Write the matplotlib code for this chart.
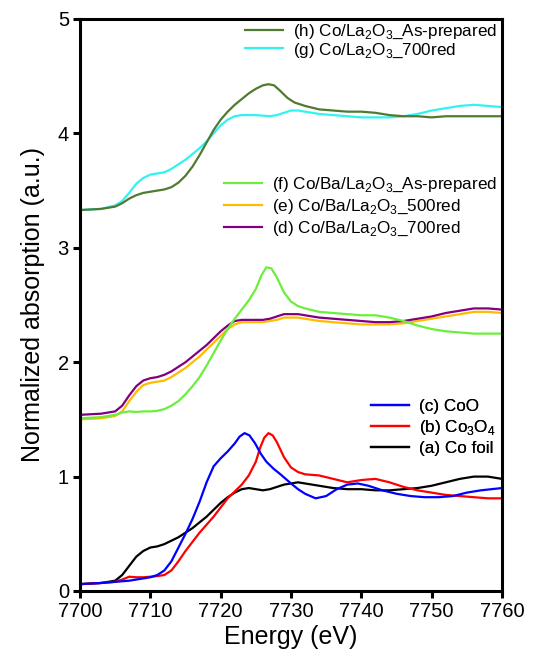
import matplotlib
matplotlib.use("Agg")
import matplotlib.pyplot as plt
from matplotlib.lines import Line2D

plt.rcParams['font.family'] = ['Liberation Sans', 'DejaVu Sans']
plt.rcParams['mathtext.fontset'] = 'custom'
plt.rcParams['mathtext.rm'] = 'Liberation Sans'

# ---- data ----
E_a = [7700, 7703, 7705, 7706, 7707, 7708, 7709, 7710, 7711, 7712, 7713, 7714, 7715, 7716, 7717, 7718, 7719, 7720, 7721, 7722, 7723, 7724, 7725, 7726, 7727, 7728, 7729, 7730, 7731, 7732, 7734, 7736, 7738, 7740, 7742, 7744, 7746, 7748, 7750, 7752, 7754, 7756, 7758, 7760]
a_cofoil = [0.06, 0.07, 0.09, 0.14, 0.22, 0.30, 0.35, 0.38, 0.39, 0.41, 0.44, 0.47, 0.51, 0.55, 0.60, 0.65, 0.71, 0.77, 0.82, 0.86, 0.89, 0.90, 0.89, 0.88, 0.89, 0.91, 0.93, 0.94, 0.95, 0.94, 0.92, 0.90, 0.89, 0.89, 0.88, 0.88, 0.89, 0.90, 0.92, 0.95, 0.98, 1.00, 1.00, 0.98]

E_b = [7700, 7703, 7705, 7706, 7707, 7708, 7709, 7710, 7711, 7712, 7713, 7714, 7715, 7716, 7717, 7718, 7719, 7720, 7721, 7722, 7723, 7724, 7725, 7725.6, 7726.2, 7726.8, 7727.4, 7728, 7729, 7730, 7731, 7732, 7734, 7736, 7738, 7740, 7742, 7744, 7746, 7748, 7750, 7752, 7754, 7756, 7758, 7760]
b_co3o4 = [0.06, 0.07, 0.08, 0.10, 0.125, 0.12, 0.12, 0.125, 0.13, 0.14, 0.18, 0.26, 0.35, 0.43, 0.51, 0.58, 0.65, 0.73, 0.81, 0.87, 0.93, 1.01, 1.13, 1.25, 1.34, 1.38, 1.36, 1.30, 1.17, 1.08, 1.04, 1.02, 1.01, 0.98, 0.95, 0.97, 0.98, 0.95, 0.91, 0.88, 0.86, 0.84, 0.83, 0.82, 0.81, 0.81]

E_c = [7700, 7703, 7705, 7707, 7709, 7710, 7711, 7712, 7713, 7714, 7715, 7716, 7717, 7718, 7719, 7720, 7721, 7722, 7722.7, 7723.4, 7724.1, 7724.9, 7725.7, 7726.5, 7727.5, 7728.5, 7730, 7731, 7732, 7733.5, 7735, 7736.5, 7738, 7739.5, 7741, 7743, 7745, 7747, 7749, 7751, 7753, 7755, 7757, 7760]
c_coo = [0.06, 0.07, 0.08, 0.09, 0.11, 0.12, 0.14, 0.18, 0.26, 0.38, 0.50, 0.63, 0.78, 0.95, 1.09, 1.16, 1.22, 1.29, 1.35, 1.38, 1.36, 1.29, 1.20, 1.13, 1.07, 1.02, 0.94, 0.89, 0.85, 0.81, 0.83, 0.89, 0.93, 0.94, 0.92, 0.88, 0.85, 0.83, 0.82, 0.82, 0.83, 0.86, 0.88, 0.90]

E_d = [7700, 7703, 7705, 7706, 7707, 7708, 7709, 7710, 7711, 7712, 7713, 7714, 7715, 7716, 7717, 7718, 7719, 7720, 7721, 7722, 7723, 7724, 7725, 7726, 7727, 7728, 7729, 7730, 7731, 7732, 7734, 7736, 7738, 7740, 7742, 7744, 7746, 7748, 7750, 7752, 7754, 7756, 7758, 7760]
d_ba700 = [1.54, 1.55, 1.57, 1.62, 1.71, 1.79, 1.84, 1.86, 1.87, 1.89, 1.92, 1.96, 2.00, 2.05, 2.10, 2.15, 2.21, 2.27, 2.32, 2.36, 2.37, 2.37, 2.37, 2.37, 2.38, 2.40, 2.42, 2.42, 2.42, 2.41, 2.39, 2.38, 2.37, 2.36, 2.35, 2.35, 2.36, 2.38, 2.40, 2.43, 2.45, 2.47, 2.47, 2.46]
e_ba500 = [1.50, 1.51, 1.53, 1.57, 1.66, 1.74, 1.80, 1.82, 1.83, 1.84, 1.87, 1.91, 1.95, 2.00, 2.05, 2.11, 2.17, 2.23, 2.29, 2.33, 2.35, 2.35, 2.35, 2.35, 2.36, 2.37, 2.39, 2.39, 2.39, 2.38, 2.36, 2.35, 2.34, 2.33, 2.33, 2.33, 2.34, 2.36, 2.38, 2.40, 2.42, 2.44, 2.44, 2.43]

E_f = [7700, 7703, 7705, 7706, 7707, 7708, 7709, 7710, 7711, 7712, 7713, 7714, 7715, 7716, 7717, 7718, 7719, 7720, 7721, 7722, 7723, 7724, 7725, 7725.8, 7726.5, 7727.2, 7728, 7729, 7730, 7731, 7732, 7734, 7736, 7738, 7740, 7742, 7744, 7746, 7748, 7750, 7752, 7754, 7756, 7758, 7760]
f_ba_asprep = [1.51, 1.52, 1.54, 1.56, 1.57, 1.565, 1.57, 1.57, 1.575, 1.59, 1.62, 1.66, 1.72, 1.79, 1.87, 1.97, 2.08, 2.19, 2.29, 2.38, 2.46, 2.54, 2.64, 2.76, 2.83, 2.82, 2.74, 2.61, 2.53, 2.49, 2.47, 2.44, 2.43, 2.42, 2.41, 2.41, 2.39, 2.36, 2.32, 2.29, 2.27, 2.26, 2.25, 2.25, 2.25]

E_g = [7700, 7703, 7705, 7706, 7707, 7708, 7709, 7710, 7711, 7712, 7713, 7714, 7715, 7716, 7717, 7718, 7719, 7720, 7721, 7722, 7723, 7724, 7725, 7726, 7727, 7728, 7729, 7730, 7731, 7732, 7734, 7736, 7738, 7740, 7742, 7744, 7746, 7748, 7750, 7752, 7754, 7756, 7758, 7760]
g_la700 = [3.33, 3.34, 3.37, 3.41, 3.48, 3.56, 3.61, 3.64, 3.65, 3.66, 3.69, 3.73, 3.77, 3.82, 3.87, 3.93, 4.00, 4.07, 4.12, 4.15, 4.16, 4.16, 4.16, 4.155, 4.15, 4.16, 4.18, 4.20, 4.20, 4.19, 4.17, 4.16, 4.15, 4.14, 4.14, 4.14, 4.15, 4.17, 4.20, 4.22, 4.24, 4.25, 4.24, 4.23]

E_h = [7700, 7703, 7705, 7706, 7707, 7708, 7709, 7710, 7711, 7712, 7713, 7714, 7715, 7716, 7717, 7718, 7719, 7720, 7721, 7722, 7723, 7724, 7725, 7726, 7726.8, 7727.6, 7728.5, 7729.5, 7730.5, 7732, 7734, 7736, 7738, 7740, 7742, 7744, 7746, 7748, 7750, 7752, 7754, 7756, 7758, 7760]
h_la_asprep = [3.33, 3.34, 3.36, 3.39, 3.43, 3.46, 3.48, 3.49, 3.50, 3.51, 3.53, 3.57, 3.63, 3.71, 3.81, 3.92, 4.03, 4.12, 4.19, 4.25, 4.30, 4.35, 4.39, 4.42, 4.43, 4.42, 4.37, 4.31, 4.27, 4.24, 4.21, 4.20, 4.19, 4.19, 4.18, 4.16, 4.15, 4.15, 4.14, 4.15, 4.15, 4.15, 4.15, 4.15]

col_h = '#507a32'
col_g = '#33f2f2'
col_f = '#6cee3c'
col_e = '#ffbb00'
col_d = '#800080'

fig = plt.figure(figsize=(5.33, 6.52), dpi=100)
ax = fig.add_axes([80/533, 1 - 591/652, 422/533, 572/652])

lw = 1.6
ax.plot(E_a, a_cofoil, color='black', lw=lw)
ax.plot(E_b, b_co3o4, color='red', lw=lw)
ax.plot(E_c, c_coo, color='blue', lw=lw)
ax.plot(E_d, e_ba500, color=col_e, lw=lw)
ax.plot(E_d, d_ba700, color=col_d, lw=lw)
ax.plot(E_f, f_ba_asprep, color=col_f, lw=lw)
ax.plot(E_g, g_la700, color=col_g, lw=lw)
ax.plot(E_h, h_la_asprep, color=col_h, lw=lw)

ax.set_xlim(7700, 7760)
ax.set_ylim(0, 5)
ax.set_xticks(range(7700, 7761, 10))
ax.set_yticks(range(0, 6))
for s in ax.spines.values():
    s.set_linewidth(2.2)
ax.tick_params(direction='out', length=5, width=2.2, labelsize=14.5, pad=3)
ax.set_xlabel('Energy (eV)', fontsize=18, labelpad=3)
ax.set_ylabel('Normalized absorption (a.u.)', fontsize=18, labelpad=9)

lfs = 12.3
def make_leg(items, loc_xy, spacing):
    handles = [Line2D([0], [0], color=c, lw=lw) for c, _ in items]
    labels = [t for _, t in items]
    leg = ax.legend(handles, labels, loc='upper left', bbox_to_anchor=loc_xy,
                    bbox_transform=fig.transFigure, frameon=False, fontsize=lfs,
                    handlelength=2.2, handletextpad=0.6, labelspacing=spacing,
                    borderpad=0, borderaxespad=0)
    ax.add_artist(leg)
    return leg

make_leg([(col_h, '(h) Co/La$_2$O$_3$_As-prepared'),
          (col_g, '(g) Co/La$_2$O$_3$_700red')], (245/533, 1 - 23/652), 0.0)
make_leg([(col_f, '(f) Co/Ba/La$_2$O$_3$_As-prepared'),
          (col_e, '(e) Co/Ba/La$_2$O$_3$_500red'),
          (col_d, '(d) Co/Ba/La$_2$O$_3$_700red')], (224/533, 1 - 176/652), 0.22)
make_leg([('blue', '(c) CoO'),
          ('red', '(b) Co$_3$O$_4$'),
          ('black', '(a) Co foil')], (371/533, 1 - 399/652), 0.22)

fig.savefig('out.png', dpi=100)
